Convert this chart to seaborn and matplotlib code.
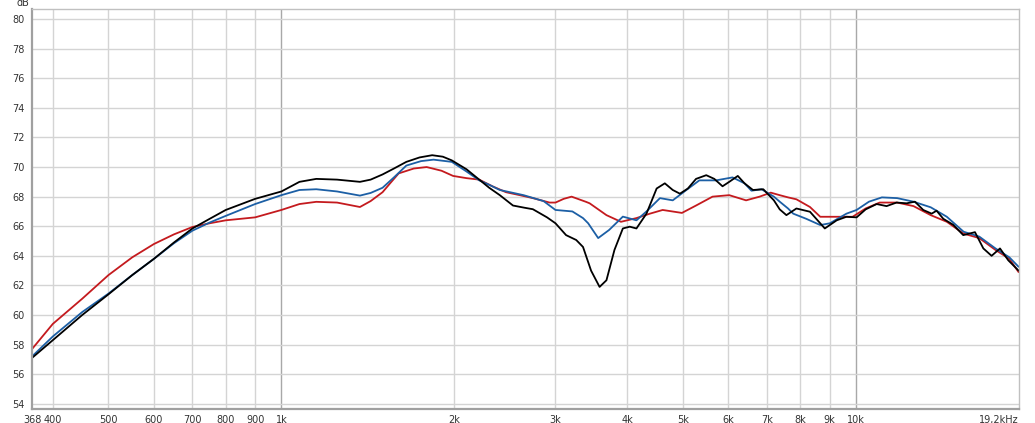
import pandas as pd
import seaborn as sns
import matplotlib.pyplot as plt
from matplotlib.ticker import FixedLocator, NullLocator

# Frequenzgang-Messung (drei Kurven)
black_f = [368, 400, 450, 500, 550, 600, 650, 700, 750, 800, 900, 1000, 1075, 1150, 1250,
           1370, 1430, 1500, 1570, 1650, 1740, 1830, 1910, 1980, 2100, 2210, 2300, 2400, 2530,
           2650, 2740, 2900, 3000, 3130, 3260,
           3350, 3460, 3580, 3680, 3800, 3930, 4040, 4150, 4320, 4500, 4650, 4800, 4940,
           5100, 5270, 5490, 5670, 5860, 6020, 6230, 6400, 6620, 6900, 7200, 7370, 7570,
           7880, 8320, 8830, 9260, 9630, 10030, 10400, 10870, 11310, 11770, 12260, 12670,
           13100, 13550, 13820, 14200, 14770, 15380, 16120, 16670, 17230, 17820, 18420, 19200]
black_db = [57.1, 58.3, 60.0, 61.4, 62.7, 63.8, 64.9, 65.85, 66.5, 67.1, 67.85, 68.35, 69.0, 69.2, 69.15,
            69.0, 69.15, 69.5, 69.9, 70.35, 70.65, 70.8, 70.7, 70.45, 69.85, 69.15, 68.6, 68.1, 67.4,
            67.25, 67.15, 66.6, 66.2, 65.4, 65.07,
            64.6, 63.0, 61.9, 62.35, 64.4, 65.85, 65.97, 65.85, 66.85, 68.55, 68.9, 68.45, 68.2,
            68.55, 69.2, 69.45, 69.2, 68.7, 69.0, 69.4, 68.9, 68.45, 68.5, 67.75, 67.14, 66.75,
            67.2, 66.98, 65.85, 66.4, 66.64, 66.6, 67.14, 67.5, 67.36, 67.6, 67.55, 67.66,
            67.1, 66.85, 67.05, 66.5, 66.1, 65.4, 65.6, 64.5, 64.0, 64.5, 63.7, 63.0]

blue_f = [368, 400, 450, 500, 550, 600, 650, 700, 750, 800, 900, 1000, 1075, 1150, 1250,
          1370, 1430, 1500, 1570, 1650, 1750, 1840, 1980, 2100, 2210, 2300, 2400, 2500, 2640,
          2860, 3000, 3210, 3350, 3420,
          3560, 3720, 3930, 4150, 4320, 4560, 4800, 5070, 5340, 5710, 6100, 6400, 6580,
          6850, 7200, 7370, 7620, 7780, 8200, 8670, 9010, 9630, 10030, 10540, 11100, 11800,
          12600, 13500, 14400, 15400, 16400, 17500, 18500, 19200]
blue_db = [57.2, 58.55, 60.2, 61.45, 62.7, 63.8, 64.85, 65.7, 66.25, 66.7, 67.5, 68.1, 68.45, 68.5, 68.35,
           68.07, 68.25, 68.6, 69.3, 70.1, 70.4, 70.5, 70.35, 69.7, 69.1, 68.8, 68.45, 68.3, 68.1,
           67.7, 67.1, 67.0, 66.55, 66.2,
           65.2, 65.75, 66.65, 66.4, 67.0, 67.9, 67.75, 68.45, 69.1, 69.1, 69.3, 68.9, 68.4,
           68.5, 68.0, 67.66, 67.2, 66.85, 66.5, 66.08, 66.2, 66.85, 67.1, 67.66, 67.95, 67.9,
           67.66, 67.28, 66.64, 65.63, 65.3, 64.5, 63.9, 63.26]

red_f = [368, 400, 450, 500, 550, 600, 650, 700, 750, 800, 900, 1000, 1075, 1150, 1250,
         1370, 1430, 1500, 1550, 1600, 1700, 1790, 1900, 1990, 2100, 2210, 2330, 2460, 2600,
         2740, 2930, 3000, 3100, 3200, 3390, 3440,
         3680, 3900, 4150, 4380, 4610, 4980, 5270, 5630, 6020, 6440, 6800, 7110, 7370,
         7620, 7880, 8320, 8670, 9230, 9870, 10400, 11000, 11800, 12600, 13500, 14400,
         15400, 16400, 17500, 18500, 19200]
red_db = [57.7, 59.4, 61.1, 62.7, 63.9, 64.8, 65.45, 65.95, 66.2, 66.4, 66.6, 67.1, 67.5, 67.65, 67.6,
          67.3, 67.7, 68.3, 68.95, 69.57, 69.9, 70.0, 69.75, 69.4, 69.25, 69.15, 68.7, 68.3, 68.1,
          67.9, 67.6, 67.6, 67.85, 68.0, 67.65, 67.55,
          66.75, 66.3, 66.55, 66.85, 67.1, 66.9, 67.4, 68.0, 68.1, 67.75, 68.0, 68.27, 68.1,
          67.95, 67.82, 67.3, 66.64, 66.64, 66.64, 67.2, 67.6, 67.6, 67.36, 66.75, 66.3,
          65.5, 65.2, 64.4, 63.8, 62.9]

x_ticks = [368, 400, 500, 600, 700, 800, 900, 1000, 2000, 3000, 4000, 5000,
           6000, 7000, 8000, 9000, 10000, 19200]
x_labels = ['368', '400', '500', '600', '700', '800', '900', '1k', '2k', '3k', '4k', '5k',
            '6k', '7k', '8k', '9k', '10k', '19,2kHz']
y_ticks = list(range(54, 81, 2))

df = pd.concat([
    pd.DataFrame({'freq': black_f, 'db': black_db, 'kurve': 'schwarz'}),
    pd.DataFrame({'freq': blue_f, 'db': blue_db, 'kurve': 'blau'}),
    pd.DataFrame({'freq': red_f, 'db': red_db, 'kurve': 'rot'}),
])

sns.set_style('white')
plt.rcParams['font.family'] = ['DejaVu Sans']

fig = plt.figure(figsize=(10.35, 4.23), dpi=100)
ax = fig.add_axes([32 / 1035, 1 - 409 / 423, (1018.6 - 32) / 1035, 400 / 423])

sns.lineplot(data=df, x='freq', y='db', hue='kurve', hue_order=['rot', 'blau', 'schwarz'],
             palette={'schwarz': '#000000', 'blau': '#1c5fa5', 'rot': '#c41a1e'},
             estimator=None, sort=True, linewidth=1.3, legend=False, ax=ax)

ax.set_xscale('log')
ax.set_xlim(368, 19200)
ax.set_ylim(53.65, 80.68)

# Gitter: 1k und 10k dunkler
for f in [400, 500, 600, 700, 800, 900, 2000, 3000, 4000, 5000, 6000, 7000, 8000, 9000]:
    ax.axvline(f, color='#d4d4d4', linewidth=1.0, zorder=0)
for f in [1000, 10000]:
    ax.axvline(f, color='#a8a8a8', linewidth=1.0, zorder=0)
for y in y_ticks:
    ax.axhline(y, color='#d4d4d4', linewidth=1.0, zorder=0)

ax.xaxis.set_major_locator(FixedLocator(x_ticks))
ax.xaxis.set_minor_locator(NullLocator())
ax.set_xticklabels(x_labels)
ax.set_yticks(y_ticks)
ax.set_yticklabels([str(v) for v in y_ticks])
ax.tick_params(axis='both', labelsize=7, colors='#333333', length=3, width=0.8, pad=2)
ax.tick_params(axis='x', length=0, pad=4)
ax.get_xticklabels()[-1].set_horizontalalignment('right')
ax.set_xlabel('')
ax.set_ylabel('')

for side in ['left', 'bottom']:
    ax.spines[side].set_color('#a0a0a0')
    ax.spines[side].set_linewidth(1.6)
for side in ['top', 'right']:
    ax.spines[side].set_color('#c0c0c0')
    ax.spines[side].set_linewidth(1.0)

fig.text(23 / 1035, 1 - 3 / 423, 'dB', fontsize=7, color='#333333', ha='center', va='center')

fig.savefig('out.png', dpi=100, facecolor='white')
